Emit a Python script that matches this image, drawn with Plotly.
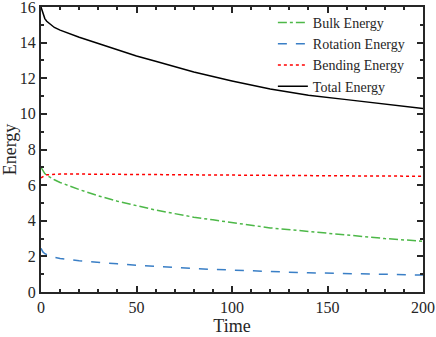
import plotly.graph_objects as go

filename = 'out.html'

t = [0, 1, 2, 3, 5, 7, 10, 20, 30, 40, 50, 60, 70, 80, 90, 100, 120, 140, 160, 180, 200]
bulk = [7.0, 6.8, 6.65, 6.55, 6.4, 6.3, 6.15, 5.75, 5.4, 5.1, 4.85, 4.6, 4.4, 4.2, 4.05, 3.9, 3.6, 3.4, 3.2, 3.0, 2.85]
rotation = [2.45, 2.25, 2.15, 2.1, 2.0, 1.95, 1.88, 1.75, 1.65, 1.58, 1.5, 1.43, 1.38, 1.32, 1.27, 1.22, 1.15, 1.08, 1.03, 0.98, 0.95]
bending = [6.4, 6.5, 6.55, 6.58, 6.6, 6.62, 6.62, 6.62, 6.61, 6.6, 6.59, 6.58, 6.57, 6.56, 6.56, 6.55, 6.54, 6.53, 6.52, 6.51, 6.5]
total = [16.0, 15.6, 15.35, 15.2, 15.0, 14.85, 14.7, 14.3, 13.95, 13.6, 13.25, 12.95, 12.65, 12.35, 12.1, 11.85, 11.4, 11.05, 10.8, 10.55, 10.3]

font = "Liberation Serif"
ink = '#262626'

fig = go.Figure()
fig.add_trace(go.Scatter(x=t, y=bulk, name="Bulk Energy", mode='lines',
                         line=dict(color='#4db848', width=1.5, dash='dashdot')))
fig.add_trace(go.Scatter(x=t, y=rotation, name="Rotation Energy", mode='lines',
                         line=dict(color='#3a7fc6', width=1.5, dash='dash')))
fig.add_trace(go.Scatter(x=t, y=bending, name="Bending Energy", mode='lines',
                         line=dict(color='#ff0000', width=1.5, dash='dot')))
fig.add_trace(go.Scatter(x=t, y=total, name="Total Energy", mode='lines',
                         line=dict(color='black', width=1.5)))

axis = dict(showgrid=False, zeroline=False, showline=True, linecolor=ink, linewidth=2,
            mirror='ticks', ticks='inside', ticklen=6, tickwidth=1.5, tickcolor=ink,
            automargin=False, ticklabeloverflow='allow',
            tickfont=dict(family=font, size=16, color=ink))

fig.update_xaxes(range=[0, 200], dtick=50, title=dict(text="Time", font=dict(family=font, size=18, color=ink), standoff=2),
                 minor=dict(ticks='inside', dtick=10, ticklen=3, tickcolor=ink), **axis)
fig.update_yaxes(range=[0, 16], dtick=2, title=dict(text="Energy", font=dict(family=font, size=18, color=ink), standoff=4),
                 minor=dict(ticks='inside', dtick=1, ticklen=3, tickcolor=ink), **axis)

fig.update_layout(
    width=436, height=337,
    margin=dict(l=41, r=13, t=7, b=45),
    plot_bgcolor='white', paper_bgcolor='white',
    legend=dict(x=0.607, y=1.0, xanchor='left', yanchor='top', bgcolor='rgba(0,0,0,0)',
                font=dict(family=font, size=14, color=ink), tracegroupgap=0, itemwidth=30),
)

fig.write_html(filename, config={'displayModeBar': False},
               post_script="document.body.style.margin='0';")
